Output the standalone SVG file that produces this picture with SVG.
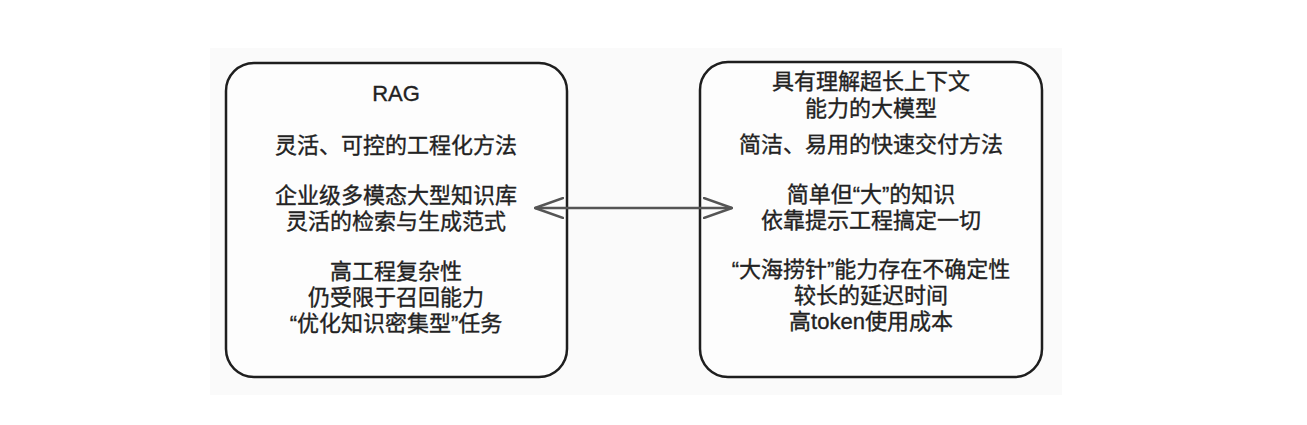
<svg xmlns="http://www.w3.org/2000/svg" width="1307" height="425" viewBox="0 0 1307 425">
<defs>
<style>
.bg{fill:#fafafa;stroke:none}
.box{fill:#fdfdfd;stroke:#1e1e1e;stroke-width:2.5}
.t{font-family:"Liberation Sans","Noto Sans CJK SC",sans-serif;font-size:22px;fill:#222;stroke:#222;stroke-width:0.35;text-anchor:middle}
.conn{stroke:#555;stroke-width:2.4;fill:none}
</style>
<marker id="ah" viewBox="0 0 30 22" refX="29" refY="11" markerWidth="30" markerHeight="22" markerUnits="userSpaceOnUse" orient="auto-start-reverse">
<path d="M1,1 L29,11 L1,21" fill="none" stroke="#555" stroke-width="2.4" stroke-linecap="round" stroke-linejoin="round"/>
</marker>
</defs>
<rect width="1307" height="425" fill="#ffffff"/>
<rect class="bg" x="210" y="48" width="852" height="347"/>
<g id="node-rag">
<rect class="box" x="226" y="63" width="341" height="314" rx="28" ry="28"/>
<text class="t" x="396" y="101">RAG</text>
<text class="t" x="396" y="153">灵活、可控的工程化方法</text>
<text class="t" x="396" y="203">企业级多模态大型知识库</text>
<text class="t" x="396" y="229">灵活的检索与生成范式</text>
<text class="t" x="396" y="279">高工程复杂性</text>
<text class="t" x="396" y="305">仍受限于召回能力</text>
<text class="t" x="396" y="331">“优化知识密集型”任务</text>
</g>
<g id="node-llm">
<rect class="box" x="700" y="62" width="342" height="315" rx="28" ry="28"/>
<text class="t" x="871" y="89">具有理解超长上下文</text>
<text class="t" x="871" y="116">能力的大模型</text>
<text class="t" x="871" y="152">简洁、易用的快速交付方法</text>
<text class="t" x="871" y="202">简单但“大”的知识</text>
<text class="t" x="871" y="228">依靠提示工程搞定一切</text>
<text class="t" x="871" y="277">“大海捞针”能力存在不确定性</text>
<text class="t" x="871" y="303">较长的延迟时间</text>
<text class="t" x="871" y="329">高token使用成本</text>
</g>
<g id="connectors">
<line class="conn" x1="535" y1="208" x2="732" y2="208" marker-start="url(#ah)" marker-end="url(#ah)"/>
</g>
</svg>
